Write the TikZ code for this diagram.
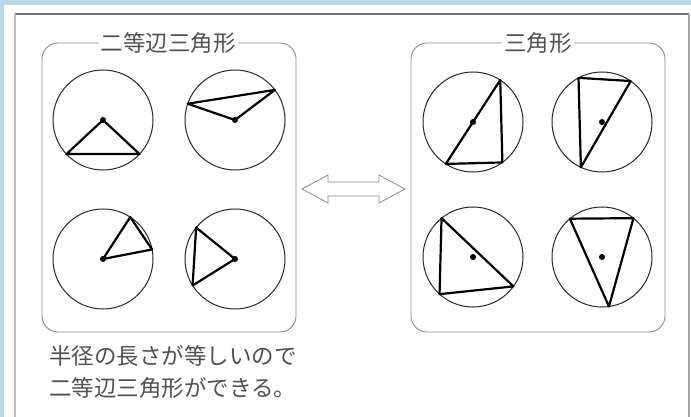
\documentclass[tikz,border=0pt]{standalone}
\usepackage{fontspec}
\usetikzlibrary{calc}
\newfontfamily\jp{Noto Sans CJK JP}
\definecolor{bgblue}{RGB}{184,220,229}
\definecolor{txtgray}{RGB}{80,80,80}
\begin{document}
\begin{tikzpicture}[x=1pt,y=-1pt,
  circ/.style={circle,draw=black!85,line width=1.0pt,minimum size=100pt,inner sep=0pt,outer sep=0pt},
  tri/.style={line width=2.2pt,line join=round,black},
  dot/.style={fill=black,circle,inner sep=0pt,minimum size=6pt},
  grpbox/.style={draw=black!45,line width=0.9pt,rounded corners=16pt},
  title/.style={fill=white,inner sep=2pt,font=\jp\fontsize{22.5}{26}\selectfont,text=txtgray},
  note/.style={anchor=west,inner sep=0pt,font=\jp\fontsize{22.5}{26}\selectfont,text=txtgray}]
\useasboundingbox (0,0) rectangle (691,417);
\fill[white] (0,0) rectangle (691,417);
\fill[bgblue] (0,0) rectangle (691,5);
\fill[bgblue] (0,0) rectangle (4,417);
% frame
\draw[black!55,line width=1.2pt] (15,14) -- (689,14);
\draw[black!25,line width=1.4pt] (15,14) -- (15,417);
\draw[black!35,line width=1.2pt] (689,14) -- (689,417);
% group boxes
\draw[grpbox] (42,43) rectangle (296,332);
\draw[grpbox] (411,43) rectangle (665,332);
\node[title] (t1) at (168,43) {二等辺三角形};
\node[title] (t2) at (538,43) {三角形};
% left circles
\node[circ] (a) at (103,120) {};
\node[circ] (b) at (235,120) {};
\node[circ] (c) at (103,259) {};
\node[circ] (d) at (235,259) {};
\draw[tri] (a.center) -- (a.223) -- (a.317) -- cycle;
\draw[tri] (b.center) -- (b.161) -- (b.37) -- cycle;
\draw[tri] (c.center) -- (c.57) -- (c.11) -- cycle;
\draw[tri] (d.center) -- (d.141) -- (d.212) -- cycle;
\foreach \n in {a,b,c,d} \node[dot] at (\n.center) {};
% right circles
\node[circ] (e) at (473,122) {};
\node[circ] (f) at (602,122) {};
\node[circ] (g) at (473,257) {};
\node[circ] (h) at (602,257) {};
\draw[tri] (e.57) -- (e.237) -- (e.306) -- cycle;
\draw[tri] (f.118) -- (f.55) -- (f.245) -- cycle;
\draw[tri] (g.129) -- (g.324) -- (g.228) -- cycle;
\draw[tri] (h.130) -- (h.51) -- (h.278) -- cycle;
\foreach \n in {e,f,g,h} \node[dot] at (\n.center) {};
% double arrow
\coordinate (lt) at (302,189);
\coordinate (rt) at (405,189);
\draw[black!45,line width=0.8pt,line join=miter,fill=white]
  (lt) -- ++(26,-14) -- ++(0,7) -- ($(rt)+(-26,-7)$) -- ++(0,-7) -- (rt)
  -- ++(-26,14) -- ++(0,-7) -- ($(lt)+(26,7)$) -- ++(0,7) -- cycle;
% notes
\node[note] (n1) at (49,356) {半径の長さが等しいので};
\node[note] (n2) at (49,388) {二等辺三角形ができる。};
\end{tikzpicture}
\end{document}
